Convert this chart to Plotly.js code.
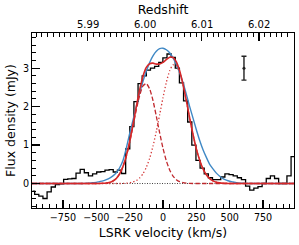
<!DOCTYPE html>
<html>
<head>
<meta charset="utf-8">
<script src="https://cdn.plot.ly/plotly-3.0.1.min.js"></script>
<style>html,body{margin:0;padding:0;background:#fff;}#plot{width:299px;height:245px;}</style>
</head>
<body>
<div id="plot"></div>
<script>
// ---- spectrum channels (LSRK velocity, km/s) and flux density (mJy)
var chanVel = [-977.5,-946.5,-915.5,-884.5,-853.5,-822.5,-791.5,-760.5,-729.5,-698.5,
  -667.5,-636.5,-605.5,-574.5,-543.5,-512.5,-481.5,-450.5,-419.5,-388.5,
  -357.5,-326.5,-295.5,-264.5,-233.5,-202.5,-171.5,-140.5,-109.5,-78.5,
  -47.5,-16.5,14.5,45.5,76.5,107.5,138.5,169.5,200.5,231.5,
  262.5,293.5,324.5,355.5,386.5,417.5,448.5,479.5,510.5,541.5,
  572.5,603.5,634.5,665.5,696.5,727.5,758.5,789.5,820.5,851.5,
  882.5,913.5,944.5,975.5,1006.5];
var chanFlux = [-0.20,-0.28,-0.33,-0.39,-0.22,-0.09,-0.03,-0.01,0.11,0.12,
  0.13,0.27,0.37,0.28,0.20,0.25,0.30,0.31,0.35,0.36,
  0.30,0.35,0.26,0.90,1.48,2.13,2.60,2.80,2.95,3.00,
  3.05,3.15,3.27,3.37,3.28,3.00,2.62,2.15,1.60,1.00,
  0.60,0.40,0.25,0.15,0.10,0.10,0.17,0.25,0.23,0.20,
  0.15,0.10,-0.07,-0.17,-0.12,-0.08,0.00,0.13,0.20,0.13,
  0.00,0.00,0.20,0.70,0.85];

// ---- model curves sampled along velocity
var fitVel = [-982,-625,-600,-575,-550,-525,-500,-475,-450,-425,-400,-375,-350,-325,-300,-275,-250,-225,-200,-175,
  -150,-125,-100,-75,-50,-25,0,25,50,75,100,125,150,175,200,225,250,275,300,325,
  350,375,400,425,450,475,500,525,550,575,600,625,650,982];
var singleFit = [0,0,0,0.005,0.01,0.02,0.03,0.05,0.07,0.10,0.14,0.20,0.28,0.41,0.60,0.92,1.30,1.65,2.00,2.35,
  2.66,2.92,3.15,3.32,3.44,3.51,3.52,3.48,3.40,3.27,3.10,2.88,2.62,2.32,2.00,1.70,1.40,1.12,0.88,0.68,
  0.50,0.38,0.27,0.19,0.13,0.09,0.06,0.04,0.02,0.01,0.005,0,0,0];
var blueComp = [0,0,0,0,0,0,0,0.002,0.005,0.012,0.029,0.064,0.131,0.249,0.437,0.710,1.069,1.490,1.920,2.290,
  2.540,2.600,2.460,2.160,1.750,1.320,0.916,0.590,0.352,0.194,0.099,0.047,0.021,0.008,0.003,0.001,0,0,0,0,
  0,0,0,0,0,0,0,0,0,0,0,0,0,0];
var redComp = [0,0,0,0,0,0,0,0,0,0,0,0,0,0,0.004,0.009,0.019,0.040,0.078,0.145,
  0.253,0.420,0.657,0.971,1.357,1.791,2.234,2.633,2.933,3.086,3.068,2.883,2.559,2.147,1.700,1.274,0.900,0.603,0.381,0.228,
  0.128,0.068,0.034,0.016,0.007,0.003,0.001,0,0,0,0,0,0,0];
var doubleFit = [0,0,0,0,0,0,0,0.002,0.005,0.012,0.029,0.064,0.131,0.249,0.441,0.719,1.088,1.530,2.000,2.435,
  2.793,3.020,3.117,3.131,3.107,3.111,3.150,3.223,3.285,3.280,3.167,2.930,2.580,2.155,1.703,1.275,0.900,0.603,0.381,0.228,
  0.128,0.068,0.034,0.016,0.007,0.003,0.001,0,0,0,0,0,0,0];

// ---- representative 1-sigma error bar
var errVel = [607];
var errFlux = [3.0];
var errSigma = [0.31];

// ---- axes
var velRange = [-982, 982];
var fluxRange = [-0.637, 3.916];
var velTicks = [-750,-500,-250,0,250,500,750];
var velTickText = ['\u2212750','\u2212500','\u2212250','0','250','500','750'];
var fluxTicks = [0,1,2,3];
var zTicks = [5.99,6.00,6.01,6.02];
var zTickText = ['5.99','6.00','6.01','6.02'];
var zSys = 6.0032, cLight = 299792.458;
var zRange = velRange.map(function(v){ return zSys + (1+zSys)*v/cLight; });

var F = 'DejaVu Sans, Verdana, sans-serif';
var traces = [
  {x: chanVel, y: chanFlux, mode:'lines', line:{shape:'hvh', color:'#000', width:1.3}, xaxis:'x', yaxis:'y', hoverinfo:'skip'},
  {x: fitVel, y: singleFit, mode:'lines', line:{shape:'spline', smoothing:0.6, color:'#3f88c5', width:1.4}, hoverinfo:'skip'},
  {x: fitVel, y: blueComp, mode:'lines', line:{shape:'spline', smoothing:0.6, color:'#c0282d', width:1.3, dash:'4.5px,2.2px'}, hoverinfo:'skip'},
  {x: fitVel, y: redComp, mode:'lines', line:{shape:'spline', smoothing:0.6, color:'#d43a3a', width:1.3, dash:'1.3px,2.2px'}, hoverinfo:'skip'},
  {x: fitVel, y: doubleFit, mode:'lines', line:{shape:'spline', smoothing:0.6, color:'#d62728', width:1.6}, hoverinfo:'skip'},
  {x: errVel, y: errFlux, mode:'markers', marker:{size:3, color:'#222'},
   error_y:{type:'data', array: errSigma, visible:true, color:'#222', thickness:1.4, width:2.5}, hoverinfo:'skip'},
  {x: zRange, y: [null,null], xaxis:'x2', yaxis:'y', mode:'lines', showlegend:false, hoverinfo:'skip'}
];

// top-axis tick labels placed on the redshift axis scale
var zLabels = zTicks.map(function(z, i){
  return {xref:'x2', x:z, yref:'paper', y:1, yanchor:'bottom', xanchor:'center', yshift:1,
    text: zTickText[i], showarrow:false, font:{family:F, size:10, color:'#000'}};
});

var layout = {
  width: 299, height: 245,
  margin: {l:32, r:5, t:33, b:37, pad:0},
  paper_bgcolor:'#fff', plot_bgcolor:'#fff',
  showlegend:false,
  font:{family:F, size:9.6, color:'#000'},
  xaxis:{
    range: velRange, tickmode:'array', tickvals: velTicks, ticktext: velTickText,
    ticks:'inside', ticklen:8, tickwidth:1.2, tickcolor:'#000',
    minor:{tickmode:'linear', tick0:0, dtick:50, ticks:'inside', ticklen:4, tickwidth:1, tickcolor:'#000'},
    showline:true, linecolor:'#000', linewidth:1, mirror:false,
    showgrid:false, zeroline:false,
    tickfont:{family:F, size:9.6, color:'#000'},
    title:{text:'LSRK velocity (km/s)', font:{family:F, size:12.5, color:'#000'}, standoff:6}
  },
  xaxis2:{
    overlaying:'x', side:'top', anchor:'y',
    range: zRange, tickmode:'array', tickvals: zTicks, showticklabels:false,
    ticks:'inside', ticklen:8, tickwidth:1.2, tickcolor:'#000',
    minor:{tickmode:'linear', tick0:5.99, dtick:0.001, ticks:'inside', ticklen:4, tickwidth:1, tickcolor:'#000'},
    showline:true, linecolor:'#000', linewidth:1,
    showgrid:false, zeroline:false,
    title:{text:'Redshift', font:{family:F, size:12.5, color:'#000'}, standoff:14}
  },
  yaxis:{
    range: fluxRange, tickmode:'array', tickvals: fluxTicks,
    ticks:'inside', ticklen:8, tickwidth:1.2, tickcolor:'#000',
    minor:{tickmode:'linear', tick0:0, dtick:0.2, ticks:'inside', ticklen:4, tickwidth:1, tickcolor:'#000'},
    showline:true, linecolor:'#000', linewidth:1, mirror:true,
    showgrid:false, zeroline:false,
    tickfont:{family:F, size:9.6, color:'#000'},
    title:{text:'Flux density (mJy)', font:{family:F, size:12.5, color:'#000'}, standoff:4}
  },
  annotations: zLabels,
  shapes:[{type:'line', xref:'paper', x0:0, x1:1, yref:'y', y0:0, y1:0, layer:'below',
    line:{color:'#444', width:1, dash:'1px,1.5px'}}]
};

Plotly.newPlot('plot', traces, layout, {staticPlot:true, displayModeBar:false});
</script>
</body>
</html>
